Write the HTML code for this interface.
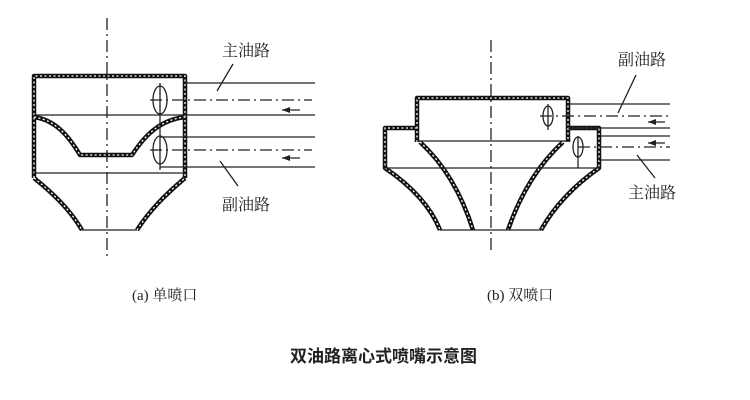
<!DOCTYPE html>
<html><head><meta charset="utf-8"><style>
body{margin:0;background:#fff}
svg{display:block}
.w{fill:none;stroke:#111;stroke-width:4.5;stroke-linejoin:round}
.wi{fill:none;stroke:#fff;stroke-width:1.3;stroke-dasharray:2 2.5}
.l{stroke:#222;stroke-width:1.3;fill:none}
.dd{stroke:#222;stroke-width:1.3;stroke-dasharray:12 4 2 4;fill:none}
text{font-family:"Liberation Serif","Noto Serif CJK SC",serif;fill:#222}
</style></head><body>
<svg width="750" height="400" viewBox="0 0 750 400">
<defs><marker id="a" markerWidth="8" markerHeight="6" refX="8" refY="3" orient="auto" markerUnits="userSpaceOnUse"><path d="M0,0 L8,3 L0,6z" fill="#222"/></marker>
<g id="lw" fill="none">
<path d="M34,178 L34,76 L185,76 L185,178"/>
<path d="M34,117 C55,120 68,135 80,155 L132,155 C145,135 160,120 185,117"/>
<path d="M34,178 C55,195 70,210 82,230 M137,230 C150,210 165,195 185,178"/>
</g>
<g id="rw" fill="none">
<path d="M417,142 L417,98 L568,98 L568,142"/>
<path d="M417,128 L385,128 L385,168 C410,185 430,205 440,230"/>
<path d="M568,128 L599,128 L599,168 C575,185 555,205 541,230"/>
<path d="M420,142 C445,165 462,195 473,230"/>
<path d="M563,142 C538,165 520,195 508,230"/>
</g>
</defs>
<!-- LEFT -->
<line class="dd" x1="107" y1="18" x2="107" y2="258"/>
<use href="#lw" class="w"/><use href="#lw" class="wi"/>
<line class="l" x1="34" y1="115" x2="315" y2="115"/>
<line class="l" x1="34" y1="173" x2="185" y2="173"/>
<line class="l" x1="82" y1="230" x2="137" y2="230"/>
<line class="l" x1="185" y1="83" x2="315" y2="83"/>
<line class="dd" x1="150" y1="100" x2="312" y2="100"/>
<line class="l" x1="160" y1="137" x2="315" y2="137"/>
<line class="dd" x1="150" y1="150" x2="312" y2="150"/>
<line class="l" x1="160" y1="167" x2="315" y2="167"/>
<line class="l" x1="160" y1="83" x2="160" y2="170"/>
<ellipse cx="160" cy="100" rx="7" ry="14" class="l"/>
<ellipse cx="160" cy="150" rx="7" ry="14" class="l"/>
<line class="l" x1="300" y1="110" x2="282" y2="110" stroke-width="2" marker-end="url(#a)"/>
<line class="l" x1="300" y1="158" x2="282" y2="158" stroke-width="2" marker-end="url(#a)"/>
<line class="l" x1="233" y1="64" x2="217" y2="91"/>
<line class="l" x1="220" y1="161" x2="238" y2="186"/>
<text x="222" y="56" font-size="16">主油路</text>
<text x="222" y="210" font-size="16">副油路</text>
<!-- RIGHT -->
<line class="dd" x1="491" y1="40" x2="491" y2="250"/>
<use href="#rw" class="w"/><use href="#rw" class="wi"/>
<line class="l" x1="417" y1="141" x2="568" y2="141"/>
<line class="l" x1="385" y1="168" x2="599" y2="168"/>
<line class="l" x1="440" y1="230" x2="541" y2="230"/>
<line class="l" x1="568" y1="104" x2="670" y2="104"/>
<line class="dd" x1="540" y1="116" x2="670" y2="116"/>
<line class="l" x1="568" y1="128" x2="670" y2="128"/>
<line class="l" x1="599" y1="136" x2="670" y2="136"/>
<line class="dd" x1="578" y1="147" x2="670" y2="147"/>
<line class="l" x1="599" y1="160" x2="670" y2="160"/>
<line class="l" x1="548" y1="104" x2="548" y2="130"/>
<line class="l" x1="578" y1="136" x2="578" y2="168"/>
<ellipse cx="548" cy="116" rx="5" ry="10" class="l"/>
<ellipse cx="578" cy="147" rx="5" ry="10" class="l"/>
<line class="l" x1="665" y1="122" x2="648" y2="122" stroke-width="2" marker-end="url(#a)"/>
<line class="l" x1="665" y1="143" x2="648" y2="143" stroke-width="2" marker-end="url(#a)"/>
<line class="l" x1="636" y1="75" x2="618" y2="113"/>
<line class="l" x1="637" y1="155" x2="655" y2="178"/>
<text x="618" y="65" font-size="16">副油路</text>
<text x="628" y="198" font-size="16">主油路</text>
<!-- captions -->
<text x="132" y="300" font-size="15">(a) 单喷口</text>
<text x="487" y="300" font-size="15">(b) 双喷口</text>
<text x="290" y="362" font-size="17" font-weight="bold" style="font-family:'Noto Sans CJK SC',sans-serif">双油路离心式喷嘴示意图</text>
</svg>
</body></html>
